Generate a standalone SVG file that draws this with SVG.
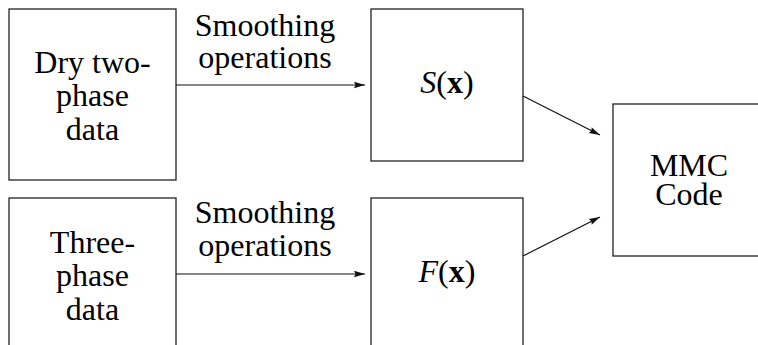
<svg xmlns="http://www.w3.org/2000/svg" width="758" height="345" viewBox="0 0 758 345">
<defs>
<marker id="ah" markerWidth="12" markerHeight="8" refX="11" refY="4" orient="auto" markerUnits="userSpaceOnUse">
<path d="M0,0.8 L11,4 L0,7.2 L1.5,4 Z" fill="#111"/>
</marker>
</defs>
<rect width="758" height="345" fill="#fff"/>
<g id="dry">
<rect x="9" y="9" width="167" height="171" fill="none" stroke="#222" stroke-width="1.3"/>
<text x="92.5" y="73" style="font-family:'Times New Roman','Liberation Serif',serif;font-size:32px" text-anchor="middle">Dry two-</text>
<text x="92.5" y="106" style="font-family:'Times New Roman','Liberation Serif',serif;font-size:32px" text-anchor="middle">phase</text>
<text x="92.5" y="140" style="font-family:'Times New Roman','Liberation Serif',serif;font-size:32px" text-anchor="middle">data</text>
</g>
<g id="three">
<rect x="9" y="198" width="167" height="170" fill="none" stroke="#222" stroke-width="1.3"/>
<text x="92.5" y="253" style="font-family:'Times New Roman','Liberation Serif',serif;font-size:32px" text-anchor="middle">Three-</text>
<text x="92.5" y="286" style="font-family:'Times New Roman','Liberation Serif',serif;font-size:32px" text-anchor="middle">phase</text>
<text x="92.5" y="320" style="font-family:'Times New Roman','Liberation Serif',serif;font-size:32px" text-anchor="middle">data</text>
</g>
<g id="S">
<rect x="371" y="9" width="152" height="152" fill="none" stroke="#222" stroke-width="1.3"/>
<text x="447" y="93" style="font-family:'Times New Roman','Liberation Serif',serif;font-size:32px" text-anchor="middle"><tspan font-style="italic">S</tspan>(<tspan font-weight="bold">x</tspan>)</text>
</g>
<g id="F">
<rect x="371" y="198" width="152" height="170" fill="none" stroke="#222" stroke-width="1.3"/>
<text x="447" y="282" style="font-family:'Times New Roman','Liberation Serif',serif;font-size:32px" text-anchor="middle"><tspan font-style="italic">F</tspan>(<tspan font-weight="bold">x</tspan>)</text>
</g>
<g id="mmc">
<rect x="613" y="104" width="160" height="152" fill="none" stroke="#222" stroke-width="1.3"/>
<text x="689" y="176" style="font-family:'Times New Roman','Liberation Serif',serif;font-size:32px" text-anchor="middle">MMC</text>
<text x="689" y="205" style="font-family:'Times New Roman','Liberation Serif',serif;font-size:32px" text-anchor="middle">Code</text>
</g>
<g id="connectors" stroke="#111" stroke-width="1.2" fill="none">
<line x1="176" y1="85" x2="365" y2="85" marker-end="url(#ah)"/>
<line x1="176" y1="274" x2="365" y2="274" marker-end="url(#ah)"/>
<line x1="523" y1="96" x2="600" y2="135" marker-end="url(#ah)"/>
<line x1="523" y1="256" x2="600" y2="217" marker-end="url(#ah)"/>
</g>
<g id="labels" text-anchor="middle">
<text x="265" y="36" style="font-family:'Times New Roman','Liberation Serif',serif;font-size:32px">Smoothing</text>
<text x="265" y="68" style="font-family:'Times New Roman','Liberation Serif',serif;font-size:32px">operations</text>
<text x="265" y="223" style="font-family:'Times New Roman','Liberation Serif',serif;font-size:32px">Smoothing</text>
<text x="265" y="256" style="font-family:'Times New Roman','Liberation Serif',serif;font-size:32px">operations</text>
</g>
</svg>
